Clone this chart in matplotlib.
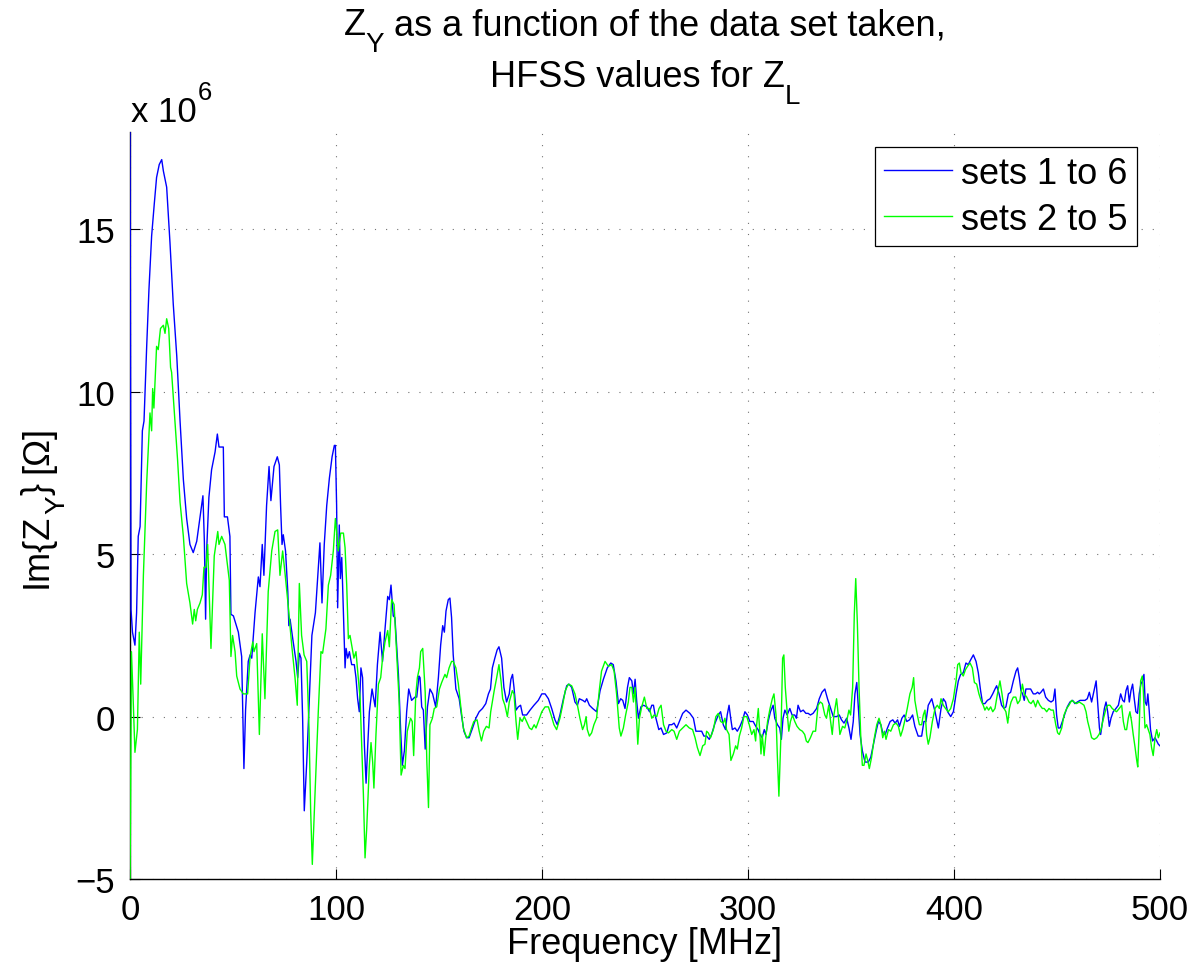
import matplotlib
matplotlib.use("Agg")
import matplotlib.pyplot as plt

plt.rcParams.update({
    "font.family": ["Liberation Sans", "DejaVu Sans"],
    "mathtext.fontset": "custom",
    "mathtext.rm": "Liberation Sans",
    "mathtext.default": "regular",
})

# Im{Z_Y} in units of 1e6 Ohm
freq_16 = [
    0.0, 0.5, 1.2, 2.4, 3.2, 4.0, 4.9, 6.0, 6.8, 8.1, 9.2, 10.5, 11.8, 12.9, 14.2, 15.4, 16.2, 17.8,
    19.4, 21.0, 22.7, 24.3, 25.9, 27.5, 29.1, 30.7, 32.4, 34.0, 35.4, 36.1, 36.7, 37.2, 38.3, 39.6,
    41.3, 42.4, 43.2, 45.3, 45.8, 47.3, 48.5, 49.0, 50.2, 52.6, 54.2, 55.3, 56.1, 57.4, 58.3, 59.1,
    60.7, 62.3, 63.1, 64.2, 65.0, 66.3, 67.5, 68.4, 69.9, 71.5, 72.5, 73.1, 73.8, 74.4, 75.5, 76.6,
    77.1, 77.7, 79.0, 80.6, 81.4, 82.2, 83.0, 83.8, 84.6, 85.8, 87.1, 88.3, 90.0, 91.1, 92.2, 93.2,
    94.3, 95.5, 96.8, 98.1, 99.2, 99.7, 100.3, 100.8, 101.6, 102.1, 102.8, 103.6, 104.4, 104.9,
    105.7, 106.5, 107.6, 108.9, 109.7, 110.5, 111.3, 112.1, 112.9, 113.8, 114.6, 115.4, 116.2,
    117.5, 119.0, 120.1, 121.4, 122.6, 123.8, 125.1, 125.9, 126.7, 127.8, 128.6, 130.3, 131.4,
    132.2, 133.2, 134.3, 135.3, 136.7, 138.3, 139.2, 140.3, 140.8, 141.6, 142.4, 143.3, 144.4,
    145.6, 146.9, 148.4, 149.7, 150.8, 151.8, 152.6, 153.4, 154.5, 155.3, 156.1, 156.9, 158.2,
    159.8, 160.9, 162.1, 163.4, 164.6, 166.3, 167.9, 169.5, 171.1, 172.7, 174.0, 175.0, 175.9,
    177.1, 178.2, 179.1, 180.4, 181.5, 182.8, 184.1, 184.9, 185.7, 186.4, 187.4, 188.5, 189.6,
    190.6, 192.5, 194.2, 196.1, 198.2, 199.9, 201.5, 203.1, 204.7, 206.3, 207.4, 208.7, 210.4,
    212.0, 213.1, 214.4, 216.0, 217.2, 218.1, 219.8, 220.9, 221.7, 223.0, 224.6, 226.5, 228.2,
    229.8, 231.7, 233.4, 234.6, 235.9, 237.1, 238.2, 239.2, 240.3, 241.5, 242.4, 243.6, 244.4,
    245.2, 246.0, 246.8, 248.0, 249.3, 250.9, 252.2, 253.3, 254.1, 254.9, 255.7, 256.7, 257.8,
    259.0, 260.6, 261.7, 263.0, 264.1, 265.4, 266.7, 268.3, 269.9, 271.8, 273.5, 274.7, 275.9,
    277.5, 278.6, 279.9, 281.2, 282.3, 284.0, 285.6, 286.7, 288.0, 289.1, 289.9, 290.8, 291.6,
    292.4, 293.7, 294.8, 296.1, 297.4, 298.5, 299.7, 300.9, 302.5, 303.8, 304.9, 305.8, 306.9,
    307.9, 308.7, 309.8, 310.9, 312.2, 313.0, 314.3, 315.4, 316.2, 317.0, 317.9, 319.0, 320.3,
    321.4, 322.7, 323.5, 324.3, 325.5, 326.8, 328.1, 329.2, 330.3, 331.6, 333.3, 334.6, 335.9,
    337.3, 338.6, 340.1, 341.4, 343.0, 344.3, 345.4, 346.6, 347.9, 349.0, 350.0, 351.1, 351.9,
    352.8, 353.6, 354.4, 355.5, 356.8, 358.4, 359.6, 360.9, 362.2, 363.3, 364.5, 365.4, 366.6,
    367.7, 369.0, 370.3, 371.4, 372.6, 373.5, 374.7, 375.8, 377.1, 378.4, 379.9, 381.0, 382.6,
    384.3, 385.4, 386.4, 387.5, 389.2, 390.8, 392.4, 393.7, 394.8, 395.9, 396.9, 398.4, 399.7,
    401.0, 402.1, 403.2, 404.5, 405.8, 406.9, 408.1, 409.4, 410.7, 411.8, 412.9, 413.9, 415.0,
    416.2, 417.5, 418.8, 419.9, 420.7, 421.9, 423.1, 424.3, 425.2, 426.4, 427.5, 428.8, 430.1,
    430.9, 431.7, 432.5, 433.3, 434.1, 434.9, 436.1, 437.2, 438.5, 439.6, 440.6, 441.4, 442.2,
    443.4, 444.5, 445.8, 447.1, 448.2, 449.0, 449.8, 450.6, 451.5, 452.6, 453.9, 455.0, 456.3,
    457.6, 458.7, 459.9, 461.2, 462.3, 463.6, 464.7, 465.7, 466.8, 468.0, 469.0, 469.8, 470.6,
    471.2, 472.2, 473.0, 473.8, 474.6, 475.4, 476.2, 477.3, 478.6, 479.8, 480.9, 481.9, 482.7,
    483.5, 484.3, 485.1, 485.9, 486.7, 487.5, 488.3, 489.1, 489.9, 490.7, 491.5, 492.2, 492.8,
    493.5, 494.1, 494.8, 495.4, 496.4, 497.6, 498.4, 499.2, 500.0,
]
im_zy_16 = [
    18.2, 3.3, 2.6, 2.2, 3.2, 5.55, 5.85, 8.8, 9.1, 11.4, 13.15, 14.8, 15.8, 16.6, 17.0, 17.15, 16.8, 16.3,
    14.6, 12.7, 11.1, 9.1, 7.3, 6.1, 5.3, 5.05, 5.4, 6.15, 6.8, 5.4, 3.0, 5.1, 6.75, 7.6,
    8.15, 8.7, 8.3, 8.3, 6.15, 6.15, 5.55, 3.15, 3.1, 2.6, 1.85, -1.6, 0.2, 1.7, 1.9, 1.8,
    3.2, 4.3, 4.0, 5.3, 4.35, 6.5, 7.7, 6.65, 7.7, 8.0, 7.75, 6.5, 5.3, 5.6, 5.1, 3.85,
    2.8, 3.0, 2.4, 1.7, 1.2, 1.95, 1.8, -0.05, -2.9, -1.4, 0.65, 2.5, 3.2, 4.25, 5.35, 3.5,
    5.3, 6.5, 7.35, 8.0, 8.35, 8.35, 6.5, 3.35, 5.9, 4.25, 4.9, 3.2, 1.5, 2.1,
    1.8, 2.0, 1.6, 1.6, 1.2, 0.55, 0.15, 1.5, 1.2, -0.9, -2.05, -0.9, 0.15,
    0.85, 0.3, 1.6, 2.6, 1.7, 2.7, 3.7, 3.6, 4.05, 3.1, 3.05, 1.3, -0.45,
    -1.5, -1.05, 0.15, 0.85, 0.5, 0.6, 0.6, 1.25, 1.2, 0.3, 0.2, -1.0, 0.3,
    0.85, 0.7, 0.3, 1.2, 2.2, 2.8, 2.6, 3.25, 3.6, 3.65, 3.05, 1.9, 0.85,
    0.55, 0.05, -0.45, -0.65, -0.65, -0.35, -0.05, 0.15, 0.25, 0.4, 0.7, 0.85, 1.5,
    1.8, 2.05, 2.15, 1.8, 0.9, 0.45, 0.7, 1.15, 1.3, 0.9, 0.2, 0.3, 0.35,
    0.05, 0.05, 0.2, 0.35, 0.5, 0.7, 0.7, 0.55, 0.25, -0.1, -0.25, 0.05, 0.55,
    0.95, 1.0, 0.9, 0.45, 0.35, 0.55, 0.5, 0.45, 0.55, 0.35, 0.25, 0.15, 0.8,
    1.15, 1.5, 1.65, 1.6, 1.1, 0.4, 0.55, 0.5, 0.25, 0.9, 1.2, 1.1, 0.7,
    1.15, 0.45, -0.05, 0.3, 0.35, 0.3, 0.15, 0.35, 0.35, 0.05, -0.15, -0.4, -0.35,
    -0.55, -0.5, -0.25, -0.25, -0.2, -0.35, -0.15, 0.1, 0.2, 0.1, -0.05, -0.45, -0.45,
    -0.45, -0.6, -0.6, -0.7, -0.55, -0.2, 0.05, 0.15, -0.25, -0.4, 0.05, 0.35, -0.05,
    -0.4, -0.35, -0.45, -0.3, -0.1, 0.15, 0.05, -0.15, -0.15, -0.3, -0.4, -0.55, -0.65,
    -0.4, -0.55, -0.15, 0.15, 0.35, -0.05, -0.25, -0.35, -0.7, -0.05, 0.2, 0.05, 0.25,
    0.05, 0.05, -0.05, 0.35, 0.15, 0.2, 0.1, 0.1, 0.05, 0.1, 0.25, 0.55, 0.75,
    0.85, 0.55, 0.25, 0.0, 0.0, 0.05, -0.1, -0.2, -0.05, -0.35, -0.7, -0.15, 0.7,
    1.05, 0.25, -0.55, -1.05, -1.4, -1.4, -1.25, -0.85, -0.45, -0.15, -0.25, -0.5, -0.55,
    -0.35, -0.15, -0.1, -0.2, -0.1, -0.3, -0.05, 0.05, -0.15, -0.1, 0.05, -0.3, -0.6,
    -0.6, -0.15, -0.15, 0.35, 0.55, 0.15, -0.35, 0.25, 0.55, 0.45, 0.15, 0.0, 0.15,
    0.7, 1.1, 1.3, 1.35, 1.65, 1.6, 1.75, 1.9, 1.7, 1.35, 0.8, 0.4, 0.4,
    0.5, 0.55, 0.7, 0.85, 0.95, 0.7, 0.35, 0.25, 0.3, 0.7, 0.75, 1.1, 1.4,
    1.5, 1.2, 0.8, 0.7, 0.5, 0.85, 0.85, 0.85, 0.7, 0.7, 0.75, 0.7, 0.75,
    0.85, 0.6, 0.5, 0.45, 0.5, 0.85, 0.05, -0.35, -0.35, -0.15, 0.1, 0.3, 0.45,
    0.5, 0.4, 0.45, 0.5, 0.5, 0.5, 0.55, 0.75, 0.45, 0.8, 1.1, 0.35, -0.35,
    -0.55, -0.1, 0.25, 0.45, 0.15, -0.3, -0.05, 0.15, 0.25, 0.35, 0.7, 0.5, 0.45,
    0.8, 0.95, 0.45, 0.8, 1.0, 0.55, 0.15, 0.1, 0.7, 1.0, 1.1, 1.3, 0.45,
    0.35, 0.7, 0.15, -0.4, -0.75, -0.65, -0.75, -0.85, -0.9,
]

freq_25 = [
    0.0, 0.7, 1.5, 2.4, 3.6, 4.5, 5.2, 5.7, 6.5, 8.1, 9.7, 10.5, 11.0, 11.6, 12.9, 13.7, 14.8, 16.2,
    17.0, 17.8, 18.8, 19.7, 20.2, 21.8, 23.1, 24.3, 25.9, 27.5, 29.1, 30.4, 31.2, 31.9, 32.7, 34.0,
    35.1, 35.9, 36.9, 37.7, 39.3, 40.9, 42.6, 43.2, 44.5, 46.1, 48.2, 49.0, 49.8, 51.0, 51.8, 53.4,
    55.0, 57.1, 58.3, 59.6, 60.2, 61.5, 62.8, 64.2, 65.5, 67.1, 68.8, 70.4, 71.7, 72.8, 74.1, 75.2,
    76.9, 78.5, 80.1, 81.2, 82.2, 83.3, 84.5, 85.8, 86.9, 87.7, 88.5, 89.8, 91.4, 92.7, 93.5, 95.1,
    96.3, 97.4, 98.7, 99.7, 100.3, 101.1, 102.3, 103.6, 104.4, 105.2, 106.0, 106.8, 107.6, 108.7,
    109.7, 110.8, 111.7, 113.3, 114.1, 114.9, 116.2, 117.0, 117.8, 118.4, 119.4, 120.6, 121.7,
    122.6, 123.8, 125.1, 125.9, 127.0, 128.2, 129.4, 130.6, 131.6, 132.7, 133.5, 134.6, 136.2,
    137.0, 137.7, 138.7, 139.5, 140.5, 141.1, 142.1, 143.3, 144.1, 144.9, 145.6, 146.8, 147.7,
    148.9, 150.2, 151.3, 152.9, 153.7, 154.9, 156.1, 156.9, 158.2, 159.4, 160.5, 161.8, 163.4,
    164.6, 165.8, 166.9, 168.5, 169.5, 170.6, 171.7, 173.0, 174.3, 175.1, 176.8, 178.0, 179.1,
    180.1, 180.9, 182.0, 183.2, 184.1, 185.6, 186.4, 187.4, 188.2, 189.3, 190.4, 191.4, 192.5,
    193.9, 195.0, 196.2, 197.1, 198.2, 199.9, 201.5, 203.1, 204.4, 205.8, 207.1, 208.7, 210.0,
    211.3, 212.8, 214.4, 216.0, 217.2, 218.4, 219.7, 220.6, 221.4, 222.0, 223.0, 224.1, 225.2,
    226.5, 227.8, 228.9, 230.6, 232.2, 233.8, 235.0, 236.2, 237.5, 238.3, 239.5, 240.6, 241.9,
    242.7, 243.6, 244.4, 245.2, 246.0, 246.5, 247.3, 248.4, 249.7, 250.9, 252.2, 253.3, 254.4,
    255.7, 256.8, 257.8, 259.0, 260.2, 261.4, 263.0, 264.1, 265.4, 266.7, 268.3, 269.9, 271.5,
    273.1, 274.3, 275.4, 276.7, 278.0, 279.1, 279.9, 280.7, 281.8, 283.2, 284.4, 285.6, 286.7,
    288.0, 288.8, 289.6, 290.8, 291.7, 292.9, 294.0, 294.8, 295.8, 296.9, 298.0, 299.4, 300.6,
    301.8, 302.9, 303.7, 304.2, 305.0, 305.8, 306.3, 306.9, 307.8, 308.6, 309.5, 310.7, 311.8,
    312.6, 313.6, 314.2, 315.0, 316.0, 316.8, 317.4, 318.1, 319.0, 319.8, 320.6, 321.6, 322.7,
    323.8, 325.1, 326.4, 327.5, 328.3, 329.1, 330.3, 331.6, 332.8, 334.0, 335.1, 336.1, 337.3,
    338.1, 339.2, 340.1, 340.9, 341.7, 343.0, 343.8, 344.6, 345.9, 347.0, 348.2, 349.0, 349.8,
    350.8, 351.6, 352.3, 353.1, 353.9, 354.7, 355.5, 356.3, 357.3, 358.1, 358.9, 360.0, 361.2,
    362.5, 363.6, 364.5, 365.4, 366.2, 367.0, 368.2, 369.3, 370.6, 371.9, 373.0, 374.1, 375.1,
    376.2, 377.3, 378.6, 379.7, 380.4, 381.0, 382.2, 383.2, 384.3, 385.1, 385.9, 386.7, 387.5,
    388.3, 389.5, 390.8, 391.9, 392.9, 393.7, 394.8, 395.9, 397.2, 398.4, 399.7, 401.0, 401.8,
    402.6, 403.4, 404.5, 405.6, 406.6, 407.8, 408.9, 409.9, 411.0, 412.1, 413.1, 414.2, 415.0,
    415.9, 416.8, 417.8, 418.8, 419.9, 421.1, 422.3, 423.3, 424.3, 425.2, 426.1, 426.9, 427.7,
    428.8, 430.0, 430.9, 432.0, 433.2, 434.1, 435.3, 436.4, 437.4, 438.5, 439.6, 440.6, 441.7,
    442.9, 443.8, 445.0, 446.1, 447.1, 448.2, 449.4, 450.3, 451.1, 452.3, 453.4, 454.7, 455.8,
    457.1, 458.2, 459.5, 460.8, 462.0, 463.1, 464.1, 464.9, 465.7, 466.8, 468.0, 469.3, 470.4,
    471.4, 472.2, 473.0, 473.8, 474.6, 475.7, 476.8, 477.8, 478.9, 480.2, 481.4, 482.2, 483.0,
    483.8, 484.6, 485.4, 486.2, 487.0, 487.9, 488.7, 489.2, 489.8, 490.6, 491.4, 491.9, 492.7,
    493.5, 494.3, 495.1, 495.9, 496.7, 497.6, 498.4, 499.2, 500.0,
]
im_zy_25 = [
    -5.5, 2.0, 0.6, -1.1, -0.4, 2.6, 1.0, 2.3, 4.35, 7.2, 9.35, 8.8, 10.1, 9.5, 11.4, 11.3, 11.95, 12.05,
    11.8, 12.25, 11.95, 10.75, 10.6, 9.1, 7.9, 6.6, 5.55, 4.1, 3.5, 2.85, 3.3, 2.95, 3.3, 3.5,
    3.75, 4.6, 4.6, 5.3, 2.1, 4.95, 5.7, 5.3, 5.55, 5.3, 4.2, 1.85, 2.5, 2.0, 1.25, 0.85,
    0.7, 0.7, 1.85, 2.3, 2.0, 2.25, -0.55, 2.55, 0.55, 3.85, 5.1, 5.7, 5.75, 4.35, 5.1, 4.45,
    3.35, 2.2, 1.2, 0.35, 4.1, 2.5, 1.9, 1.7, -0.35, -2.9, -4.55, -2.4, 0.15, 2.0, 1.95, 2.7,
    4.05, 4.35, 5.1, 6.1, 5.7, 5.1, 5.65, 5.65, 5.2, 4.05, 2.4, 2.5, 2.2, 1.8,
    2.0, 1.2, 0.55, -2.4, -4.35, -3.45, -1.5, -0.8, -1.4, -2.2, -0.55, 1.0, 1.2,
    1.8, 2.3, 2.65, 2.15, 3.6, 3.45, 2.0, 0.55, -1.8, -1.5, -1.6, -0.45, -0.05,
    -0.15, -1.2, 0.65, 1.2, 1.5, 2.0, 2.1, 0.75, -1.4, -2.8, -0.25, -0.05, 0.25,
    0.3, 0.85, 1.05, 1.3, 1.2, 1.5, 1.7, 1.7, 1.5, 1.0, 0.35, -0.35, -0.65,
    -0.6, -0.35, -0.15, -0.1, -0.45, -0.75, -0.45, -0.3, -0.35, 0.15, 0.8, 1.2, 1.6,
    1.1, 0.55, 0.35, 0.0, 0.45, 0.8, 0.7, -0.15, -0.7, -0.05, -0.15, 0.0, -0.15,
    -0.35, -0.4, -0.25, -0.35, -0.15, 0.15, 0.3, 0.3, 0.05, -0.25, -0.4, -0.05, 0.35,
    0.8, 1.0, 0.95, 0.7, 0.35, -0.05, -0.4, -0.25, 0.0, -0.4, -0.6, -0.5, -0.25,
    -0.05, 0.8, 1.4, 1.7, 1.55, 1.6, 1.4, 0.7, -0.35, -0.6, -0.35, 0.05, 0.45,
    0.9, 0.9, 0.45, 0.9, -0.15, -0.85, -0.05, 0.3, 0.6, 0.25, 0.25, -0.05, 0.05,
    0.0, 0.25, 0.35, -0.25, -0.45, -0.5, -0.4, -0.45, -0.7, -0.45, -0.35, -0.25, -0.35,
    -0.4, -0.65, -0.95, -1.2, -0.9, -0.85, -0.45, -0.5, -0.65, -0.4, 0.0, 0.1, -0.15,
    -0.2, -0.05, -0.4, -0.55, -1.35, -1.15, -0.9, -1.0, -0.6, -0.35, 0.0, 0.0, -0.25,
    -0.55, -0.4, -0.75, -0.25, 0.25, -0.55, -1.15, -0.55, -1.2, -0.65, -0.15, 0.25, 0.55,
    0.7, 0.05, -1.15, -2.45, -0.55, 1.8, 1.9, 0.9, 0.15, -0.45, -0.15, 0.05, -0.15,
    -0.3, -0.4, -0.45, -0.55, -0.75, -0.8, -0.65, -0.45, -0.45, 0.35, 0.45, 0.4, 0.05,
    -0.05, 0.35, -0.15, -0.55, 0.05, 0.55, 0.05, -0.55, -0.3, -0.35, -0.05, 0.2, 0.05,
    0.9, 3.15, 4.25, 2.85, 0.9, -0.55, -1.5, -1.5, -1.15, -1.35, -1.6, -1.25, -0.7,
    -0.25, -0.05, -0.25, -0.65, -0.45, -0.7, -0.4, -0.45, -0.25, -0.2, -0.3, -0.6, -0.4,
    -0.1, 0.25, 0.7, 0.9, 1.2, 0.5, 0.05, -0.25, -0.25, 0.05, 0.2, -0.55, -0.85,
    -0.65, -0.15, 0.25, 0.35, 0.25, 0.55, 0.35, 0.25, 0.15, 0.25, 0.55, 1.1, 1.6,
    1.65, 1.35, 1.25, 1.45, 1.55, 1.65, 1.5, 1.05, 1.0, 0.7, 0.5, 0.35, 0.2,
    0.3, 0.2, 0.3, 0.15, 0.25, 0.7, 1.1, 0.7, 0.25, 0.15, -0.2, 0.25, 0.45,
    0.6, 0.6, 0.4, 0.5, 1.0, 0.7, 0.6, 0.45, 0.4, 0.5, 0.3, 0.5, 0.35,
    0.25, 0.25, 0.15, 0.25, 0.2, 0.2, -0.25, -0.5, -0.55, -0.35, 0.05, 0.25, 0.35,
    0.5, 0.45, 0.4, 0.45, 0.4, 0.35, 0.15, -0.15, -0.35, -0.65, -0.7, -0.65, -0.55,
    -0.4, -0.15, 0.05, 0.25, 0.35, 0.35, 0.25, 0.2, 0.15, 0.25, 0.35, -0.15, -0.4,
    -0.4, -0.05, 0.15, -0.15, -0.55, -0.95, -1.35, -1.55, -0.55, 1.1, 1.25, 0.8, -0.35,
    -0.25, -0.4, -0.55, -0.95, -1.2, -0.65, -0.4, -0.65, -0.5,
]

x_ticks = [0, 100, 200, 300, 400, 500]
y_ticks = [-5, 0, 5, 10, 15]
y_tick_labels = ["\u22125", "0", "5", "10", "15"]
legend_labels = ["sets 1 to 6", "sets 2 to 5"]

W, H = 1193, 970
TXT = 26
fig = plt.figure(figsize=(W / 100, H / 100), dpi=100)
ax = fig.add_axes([130 / W, 90 / H, 1030 / W, 747 / H])


def rich_text(x_px, y_px, parts, size, rotation=0, centered=True):
    # MATLAB-like text with big sub/superscripts; parts = (text, scale, drop_px, gap_em)
    r = fig.canvas.get_renderer()
    items = []
    for s, scale, drop, gap in parts:
        t = fig.text(0, 0, s, fontsize=size * scale, rotation=rotation,
                     rotation_mode="anchor", ha="left", va="baseline")
        ext = t.get_window_extent(r)
        length = ext.height if rotation else ext.width
        items.append((t, length, drop, gap * size * 100 / 72))
    total = sum(l + g for _, l, _, g in items)
    pos = -total / 2 if centered else 0
    for t, l, drop, g in items:
        pos += g
        if rotation:
            t.set_position(((x_px + drop) / W, 1 - (y_px - pos) / H))
        else:
            t.set_position(((x_px + pos) / W, 1 - (y_px + drop) / H))
        pos += l


ax.plot(freq_16, im_zy_16, color="#0000FF", linewidth=1.0, label=legend_labels[0], zorder=3)
ax.plot(freq_25, im_zy_25, color="#00FF00", linewidth=1.0, label=legend_labels[1], zorder=3)

ax.set_xlim(0, 500)
ax.set_ylim(-5, 18)
ax.set_xticks(x_ticks)
ax.set_yticks(y_ticks)
ax.set_yticklabels(y_tick_labels)
ax.tick_params(direction="in", length=7, width=0.8, labelsize=25, color="black")
ax.tick_params(axis="x", pad=10)
ax.tick_params(axis="y", pad=11)
ax.grid(True, color="black", alpha=0.55, linestyle=(0, (1, 9)), linewidth=0.8)
for s in ["top", "right"]:
    ax.spines[s].set_visible(False)
for s in ["left", "bottom"]:
    ax.spines[s].set_linewidth(1.0)

ax.set_xlabel("Frequency [MHz]", fontsize=TXT, labelpad=0)

cx = (130 + 1160) / 2
rich_text(cx, 35, [("Z", 1, 0, 0), ("Y", 0.77, 17, 0),
                   ("as a function of the data set taken,", 1, 0, 0.28)], TXT)
rich_text(cx, 87, [("HFSS values for Z", 1, 0, 0), ("L", 0.77, 17, 0)], TXT)
rich_text(47, 507, [("Im{Z", 1, 0, 0), ("Y", 0.77, 17, 0), ("}", 1, 0, 0),
                    ("[\u03A9]", 1, 0, 0.28)], TXT, rotation=90)
rich_text(131, 122, [("x 10", 1, 0, 0), ("6", 0.74, -22, 0.03)], 25, centered=False)

leg = ax.legend(loc="upper right", bbox_to_anchor=((1137 - 130) / 1030, (880 - 148) / 747),
                borderaxespad=0, fontsize=TXT, handlelength=1.9, handletextpad=0.25,
                labelspacing=0.3, borderpad=0.25, fancybox=False, framealpha=1)
leg.get_frame().set_edgecolor("black")
leg.get_frame().set_linewidth(0.9)

fig.savefig("out.png", dpi=100, facecolor="white")
